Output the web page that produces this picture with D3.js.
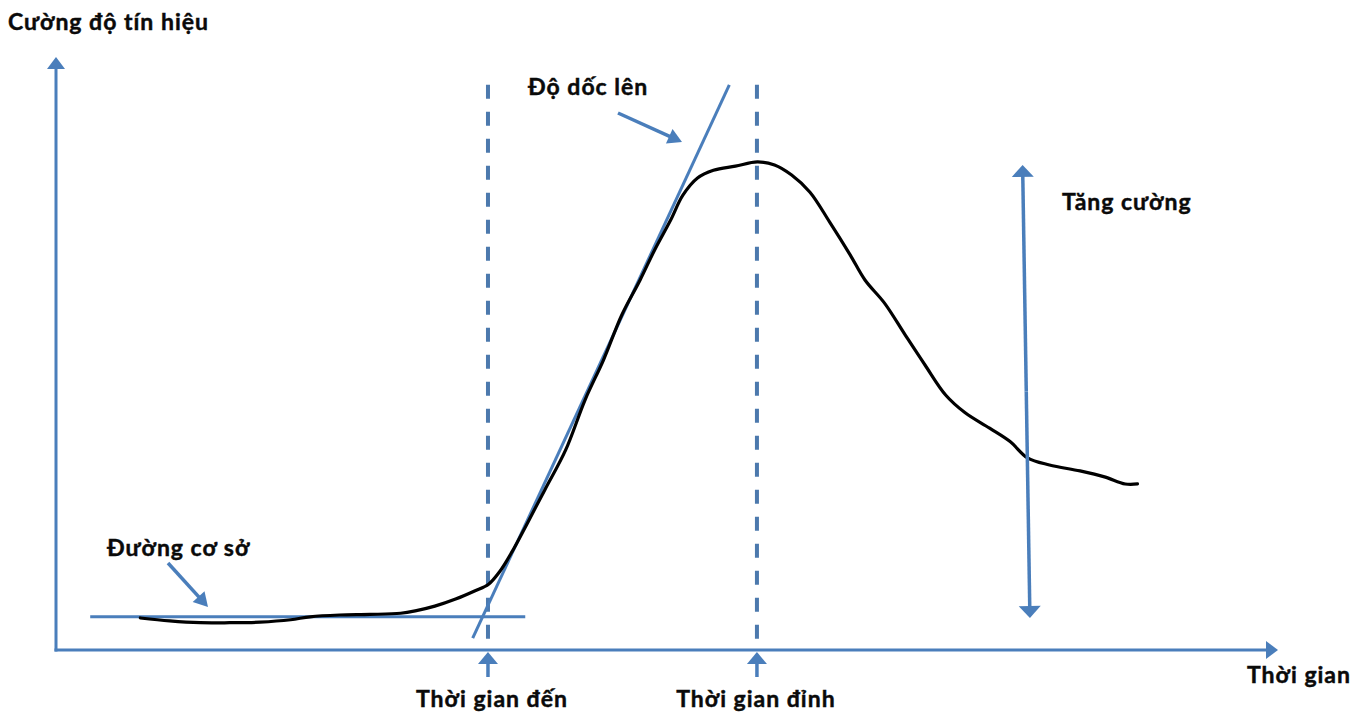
<!DOCTYPE html>
<html lang="vi">
<head>
<meta charset="utf-8">
<title>Cường độ tín hiệu theo thời gian</title>
<script src="https://cdn.jsdelivr.net/npm/d3@7"></script>
<style>
  html, body { margin: 0; padding: 0; background: #fff; }
  svg { display: block; }
  text { font-family: Lato, "Open Sans", sans-serif; font-weight: 700; fill: #0a0a0a; stroke: #0a0a0a; stroke-width: 0.45px; }
</style>
</head>
<body>
<svg id="chart" width="1359" height="713"></svg>
<script>
// Time–intensity curve (arbitrary units, 0–100 on both axes)
const curveTime = [6.9, 9.3, 11.8, 14.2, 16.7, 19.2, 20.8, 23.2, 25.7, 28.2, 29.4, 31.0, 32.7, 34.3, 35.4,
  36.3, 37.3, 38.5, 40.0, 41.7, 43.3, 44.8, 46.3, 47.8, 49.0, 50.3, 51.3, 52.5, 53.8, 55.6, 57.4,
  58.8, 60.2, 61.7, 63.3, 65.0, 66.2, 67.8, 69.5, 71.1, 72.8, 74.4, 76.4, 78.1, 79.5, 81.3, 83.8,
  85.8, 87.5, 88.5];
const curveIntensity = [5.4, 4.9, 4.6, 4.6, 4.7, 5.1, 5.6, 5.9, 6.0, 6.2, 6.6, 7.4, 8.6, 10.0, 11.1,
  13.2, 16.5, 21.1, 27.0, 33.7, 42.2, 48.9, 56.5, 62.4, 67.5, 72.5, 76.7, 79.6, 80.9, 81.6, 82.3,
  81.8, 80.1, 77.2, 72.2, 66.6, 62.4, 58.5, 53.1, 48.1, 43.0, 40.0, 37.4, 35.1, 32.4, 31.2, 30.2,
  29.2, 28.0, 28.0];

// Reference lines
const baselineLevel = 5.6;
const baselineSpan = [2.8, 38.4];
const upslopeTime = [34.1, 55.1];
const upslopeIntensity = [2.0, 95.3];
const arrivalTime = 35.35;
const peakTime = 57.36;
const guideTop = 95.3;
const enhanceTime = [79.7, 79.1];
const enhanceRange = [5.4, 81.8];

// Texts
const axisTitles = ["Thời gian", "Cường độ tín hiệu"];
const markerLabels = ["Thời gian đến", "Thời gian đỉnh"];
const annotationLabels = ["Đường cơ sở", "Độ dốc lên", "Tăng cường"];

const blue = "#4a7ebb";
const dashBlue = "#4c79ad";

const svg = d3.select("#chart");
const x = d3.scaleLinear().domain([0, 100]).range([56, 1278]);
const y = d3.scaleLinear().domain([0, 100]).range([650, 57]);

// Line with a filled triangular head at its end point
function arrow(g, x1, y1, x2, y2, opts) {
  const o = Object.assign({ width: 3, head: 12, half: 10, color: blue }, opts || {});
  const dx = x2 - x1, dy = y2 - y1, L = Math.hypot(dx, dy);
  const ux = dx / L, uy = dy / L, px = -uy, py = ux;
  const bx = x2 - ux * o.head, by = y2 - uy * o.head;
  g.append("line")
    .attr("x1", x1).attr("y1", y1)
    .attr("x2", bx + ux * 1).attr("y2", by + uy * 1)
    .attr("stroke", o.color).attr("stroke-width", o.width);
  g.append("path")
    .attr("d", `M${x2},${y2}L${bx + px * o.half},${by + py * o.half}L${bx - px * o.half},${by - py * o.half}Z`)
    .attr("fill", o.color);
}

const g = svg.append("g");

// Axes
arrow(g, x(0), y(0) + 1.5, x(0), y(100), { width: 3, head: 12, half: 9 });
arrow(g, x(0) - 1.5, y(0), x(100), y(0), { width: 3, head: 12, half: 9 });

// Dashed guides at arrival and peak time
[arrivalTime, peakTime].forEach(t => {
  g.append("line")
    .attr("x1", x(t)).attr("x2", x(t))
    .attr("y1", y(guideTop)).attr("y2", y(0))
    .attr("stroke", dashBlue).attr("stroke-width", 4)
    .attr("stroke-dasharray", "14 13");
  arrow(g, x(t), y(0) + 27, x(t), y(0) + 2, { width: 3.5, head: 12, half: 10 });
});

// Baseline
g.append("line")
  .attr("x1", x(baselineSpan[0])).attr("x2", x(baselineSpan[1]))
  .attr("y1", y(baselineLevel)).attr("y2", y(baselineLevel))
  .attr("stroke", blue).attr("stroke-width", 3);

// Upslope tangent
g.append("line")
  .attr("x1", x(upslopeTime[0])).attr("y1", y(upslopeIntensity[0]))
  .attr("x2", x(upslopeTime[1])).attr("y2", y(upslopeIntensity[1]))
  .attr("stroke", blue).attr("stroke-width", 3);

// Signal curve
const pts = curveTime.map((t, i) => [t, curveIntensity[i]]);
g.append("path")
  .datum(pts)
  .attr("d", d3.line().x(d => x(d[0])).y(d => y(d[1])).curve(d3.curveCatmullRom.alpha(0.5)))
  .attr("fill", "none").attr("stroke", "#000").attr("stroke-width", 3.2)
  .attr("stroke-linecap", "round").attr("stroke-linejoin", "round");

// Enhancement double arrow
{
  const xa = x(enhanceTime[0]), ya = y(enhanceRange[0]);
  const xb = x(enhanceTime[1]), yb = y(enhanceRange[1]);
  const mx = (xa + xb) / 2, my = (ya + yb) / 2;
  arrow(g, mx, my, xb, yb, { width: 3.5, head: 12, half: 11 });
  arrow(g, mx, my, xa, ya, { width: 3.5, head: 12, half: 11 });
}

// Pointer arrows for annotations
arrow(g, 168, 563, 208, 607, { width: 3.5, head: 14, half: 8 });
arrow(g, 618, 113, 682, 142, { width: 3.5, head: 14, half: 8 });

// Texts
const txt = svg.append("g").attr("font-size", 23).attr("letter-spacing", 1);
txt.append("text").attr("x", 8).attr("y", 30).text(axisTitles[1]);
txt.append("text").attr("x", 1247).attr("y", 683).text(axisTitles[0]);
txt.append("text").attr("x", x(arrivalTime) + 4).attr("y", 707).attr("text-anchor", "middle").text(markerLabels[0]);
txt.append("text").attr("x", x(peakTime) - 1).attr("y", 707).attr("text-anchor", "middle").text(markerLabels[1]);
txt.append("text").attr("x", 107).attr("y", 556).text(annotationLabels[0]);
txt.append("text").attr("x", 528).attr("y", 95).text(annotationLabels[1]);
txt.append("text").attr("x", 1062).attr("y", 210).text(annotationLabels[2]);
</script>
</body>
</html>
